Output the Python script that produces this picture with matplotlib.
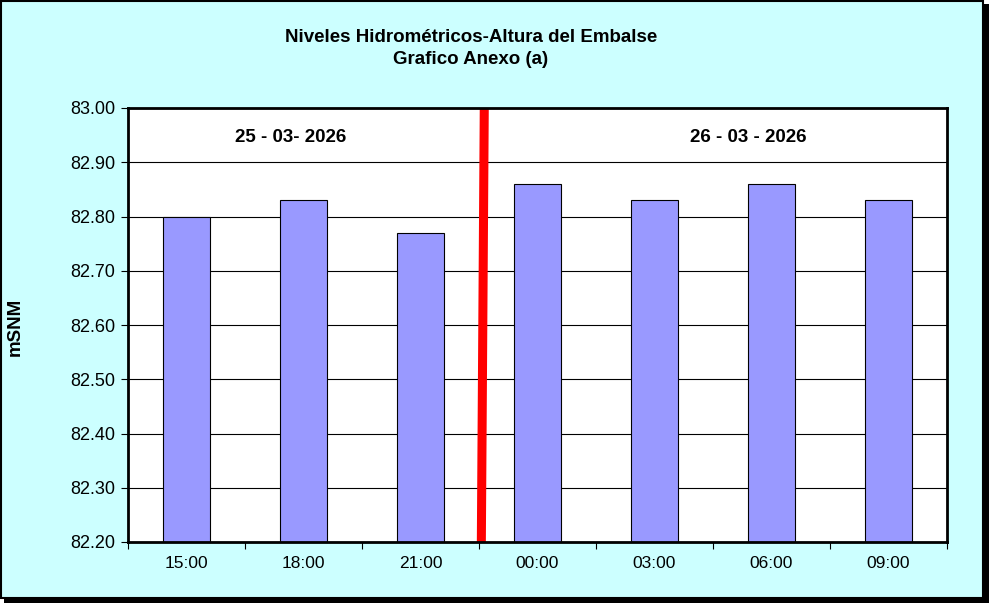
import matplotlib.pyplot as plt
from matplotlib.patches import Rectangle

plt.rcParams['font.family'] = ['Liberation Sans', 'DejaVu Sans']

horas = ["15:00", "18:00", "21:00", "00:00", "03:00", "06:00", "09:00"]
niveles = [82.80, 82.83, 82.77, 82.86, 82.83, 82.86, 82.83]
yticks = [82.20, 82.30, 82.40, 82.50, 82.60, 82.70, 82.80, 82.90, 83.00]
fechas = ["25 - 03- 2026", "26 - 03 - 2026"]

fig = plt.figure(figsize=(9.89, 6.03), dpi=100)
fig.patch.set_facecolor("white")

# marco con sombra
fig.patches.append(Rectangle((4 / 989, 0), 985 / 989, 599 / 603, transform=fig.transFigure,
                             facecolor="black", edgecolor="none", zorder=-3))
fig.patches.append(Rectangle((1 / 989, 5 / 603), 982 / 989, 597 / 603, transform=fig.transFigure,
                             facecolor="#CCFFFF", edgecolor="black", linewidth=1.5, zorder=-2))

ax = fig.add_axes([128 / 989, 61 / 603, 819 / 989, 434 / 603])
ax.set_facecolor("white")

x = list(range(len(horas)))
ax.bar(x, [v - 82.2 for v in niveles], bottom=82.2, width=0.4, color="#9999FF",
       edgecolor="black", linewidth=0.8, zorder=3)

ax.set_xlim(-0.5, len(horas) - 0.5)
ax.set_ylim(82.2, 83.0)
ax.set_yticks(yticks)
ax.set_yticklabels([f"{v:.2f}" for v in yticks], fontsize=13)
ax.grid(axis="y", color="black", linewidth=0.8, zorder=1)

ax.set_xticks(x)
ax.set_xticklabels(horas, fontsize=12.5)
ax.set_xticks([i + 0.5 for i in range(-1, len(horas))], minor=True)
ax.tick_params(axis="x", which="major", length=0, pad=10)
ax.tick_params(axis="x", which="minor", length=5, width=0.8, direction="out")
ax.tick_params(axis="y", length=5, width=0.8, direction="out", pad=4)

for s in ax.spines.values():
    s.set_linewidth(2)
    s.set_zorder(5)

# division de dias
ax.plot([2.545, 2.52], [83.0, 82.2], color="red", linewidth=6.5, zorder=4, solid_capstyle="butt")

ax.text(0.89, 82.946, fechas[0], ha="center", va="center", fontsize=13.5, fontweight="bold")
ax.text(4.80, 82.946, fechas[1], ha="center", va="center", fontsize=13.5, fontweight="bold")

fig.text(15 / 989, 1 - 327 / 603, "mSNM", rotation=90, ha="center", va="center",
         fontsize=13.5, fontweight="bold")

fig.text(471 / 989, 1 - 38 / 603, "Niveles Hidrométricos-Altura del Embalse", ha="center", va="center",
         fontsize=13.5, fontweight="bold")
fig.text(471 / 989, 1 - 60 / 603, "Grafico Anexo (a)", ha="center", va="center",
         fontsize=13.5, fontweight="bold")

fig.savefig("out.png", dpi=100, facecolor=fig.get_facecolor())
